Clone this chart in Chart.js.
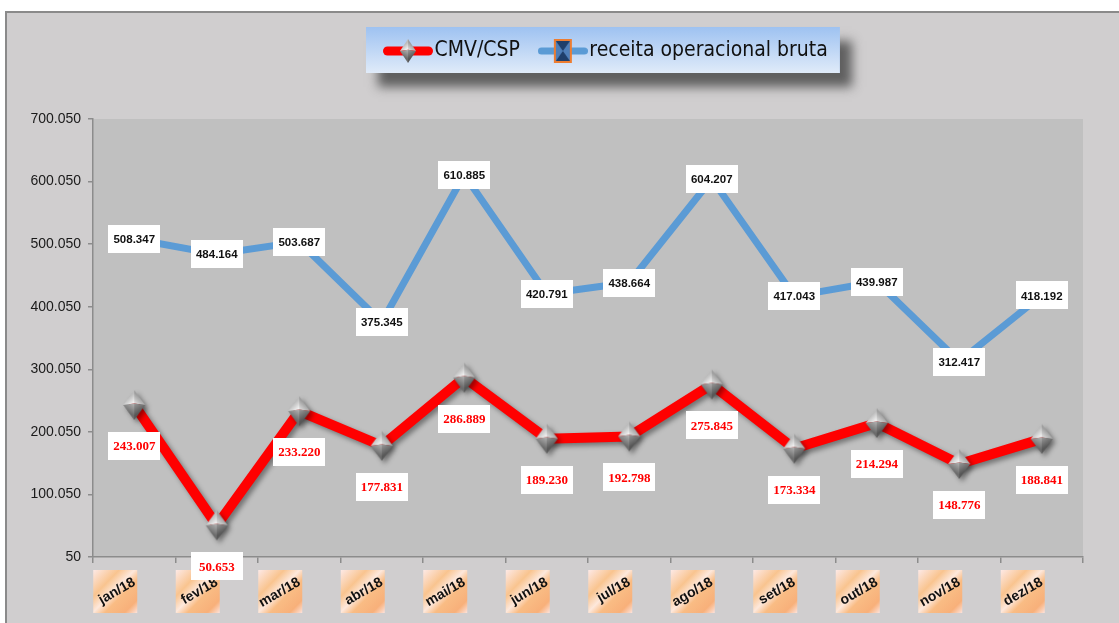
<!DOCTYPE html>
<html>
<head>
<meta charset="utf-8">
<script src="https://cdn.jsdelivr.net/npm/chart.js@4.4.1/dist/chart.umd.min.js"></script>
<style>
html,body{margin:0;padding:0;background:#ffffff;}
#wrap{width:1119px;height:623px;position:relative;overflow:hidden;}
canvas{display:block;}
</style>
</head>
<body>
<div id="wrap"><canvas id="c" width="1119" height="623"></canvas></div>
<script>
// ---- data ----
const categories = ['jan/18','fev/18','mar/18','abr/18','mai/18','jun/18','jul/18','ago/18','set/18','out/18','nov/18','dez/18'];
const seriesNames = ['CMV/CSP', 'receita operacional bruta'];
const cmvCsp = [243007, 50653, 233220, 177831, 286889, 189230, 192798, 275845, 173334, 214294, 148776, 188841];
const receitaBruta = [508347, 484164, 503687, 375345, 610885, 420791, 438664, 604207, 417043, 439987, 312417, 418192];
const yTickValues = [50, 100050, 200050, 300050, 400050, 500050, 600050, 700050];
const yTickLabels = ['50', '100.050', '200.050', '300.050', '400.050', '500.050', '600.050', '700.050'];

// ---- fonts ----
const mctx = document.createElement('canvas').getContext('2d');
function fontAvailable(name) {
  const s = 'mmmmmmmmmmlli10.WQ';
  for (const base of ['monospace', 'serif']) {
    mctx.font = '40px ' + base; const w0 = mctx.measureText(s).width;
    mctx.font = "40px '" + name + "', " + base; const w1 = mctx.measureText(s).width;
    if (Math.abs(w0 - w1) > 0.01) return true;
  }
  return false;
}
const hasNarrow = fontAvailable('Liberation Sans Narrow');
const SANS = hasNarrow ? "'Liberation Sans Narrow', sans-serif" : "'Liberation Sans', Arial, sans-serif";
const LEGEND_FAMILY = hasNarrow ? "'Liberation Sans Narrow', sans-serif" : "'DejaVu Sans Condensed', 'DejaVu Sans', sans-serif";
function fitSize(text, weight, family, base, target) {
  mctx.font = weight + ' ' + base + 'px ' + family;
  const w = mctx.measureText(text).width;
  return Math.round(base * target / w * 2) / 2;
}
const yTickSize = hasNarrow ? 16 : 14;
const legendSize = fitSize('receita operacional bruta', 'normal', LEGEND_FAMILY, 24, 236);
const xTickSize = hasNarrow ? 16 : 14;
const blueLabelSize = hasNarrow ? 13 : 11.5;

const fmt = n => String(n).replace(/\B(?=(\d{3})+(?!\d))/g, '.');

function makeDiamond(w, h, pad) {
  const c = document.createElement('canvas');
  c.width = w + pad * 2; c.height = h + pad * 2;
  const g = c.getContext('2d');
  const cx = c.width / 2, cy = c.height / 2;
  const T = [cx, pad], R = [cx + w / 2, cy], B = [cx, pad + h], L = [cx - w / 2, cy], C = [cx, cy - h * 0.05];
  const face = (a, b, c1, c2) => {
    const mx = (a[0] + b[0]) / 2, my = (a[1] + b[1]) / 2;
    const gr = g.createLinearGradient(C[0], C[1], mx, my);
    gr.addColorStop(0, c1); gr.addColorStop(1, c2);
    g.beginPath(); g.moveTo(C[0], C[1]); g.lineTo(a[0], a[1]); g.lineTo(b[0], b[1]); g.closePath();
    g.fillStyle = gr; g.fill();
  };
  face(T, L, '#fbfbfb', '#bcbcbc');
  face(T, R, '#e2e2e2', '#9e9e9e');
  face(L, B, '#b4b4b4', '#6c6c6c');
  face(R, B, '#9a9a9a', '#575757');
  return c;
}

function makeRectMarker(w, h) {
  const c = document.createElement('canvas');
  c.width = w; c.height = h;
  const g = c.getContext('2d');
  g.fillStyle = '#ed7d31'; g.fillRect(0, 0, w, h);
  g.fillStyle = '#4f7fb8'; g.fillRect(2, 2, w - 4, h - 4);
  g.fillStyle = '#1f3f6a';
  g.beginPath(); g.moveTo(2, 2); g.lineTo(w - 2, 2); g.lineTo(w / 2, h / 2); g.closePath(); g.fill();
  g.beginPath(); g.moveTo(2, h - 2); g.lineTo(w - 2, h - 2); g.lineTo(w / 2, h / 2); g.closePath(); g.fill();
  return c;
}

const diamondImg = makeDiamond(22, 30, 1);
const rectImg = makeRectMarker(21, 26);

function makeLegendIcon(color, thick, marker, mw, mh) {
  const c = document.createElement('canvas');
  c.width = 50; c.height = 28;
  const g = c.getContext('2d');
  g.strokeStyle = color; g.lineWidth = thick; g.lineCap = 'round';
  g.beginPath(); g.moveTo(thick / 2, 14); g.lineTo(50 - thick / 2, 14); g.stroke();
  g.drawImage(marker, 25 - mw / 2, 14 - mh / 2, mw, mh);
  return c;
}
const legendIcons = [
  makeLegendIcon('#ff0000', 9, makeDiamond(16, 24, 0), 16, 24),
  makeLegendIcon('#5b9bd5', 7, makeRectMarker(18, 24), 18, 24)
];

// ---- plugins ----
const bgPlugin = {
  id: 'bg',
  beforeDraw(chart) {
    const ctx = chart.ctx, a = chart.chartArea;
    ctx.save();
    ctx.fillStyle = '#ffffff'; ctx.fillRect(0, 0, chart.width, chart.height);
    ctx.fillStyle = '#d0cecf'; ctx.fillRect(6, 11, chart.width - 6, chart.height - 11);
    ctx.strokeStyle = '#8a8a8a'; ctx.lineWidth = 2;
    ctx.beginPath(); ctx.moveTo(6, chart.height); ctx.lineTo(6, 12); ctx.lineTo(chart.width, 12); ctx.stroke();
    ctx.fillStyle = '#c0c0c0'; ctx.fillRect(a.left, a.top, a.right - a.left, a.bottom - a.top);
    const lg = chart.legend;
    if (lg && lg.legendHitBoxes && lg.legendHitBoxes.length) {
      const hb = lg.legendHitBoxes;
      const last = hb[hb.length - 1];
      const left = hb[0].left - 26, right = last.left + last.width + 12;
      const top = 27, h = 46;
      ctx.save();
      ctx.shadowColor = 'rgba(90,90,90,0.95)'; ctx.shadowBlur = 10; ctx.shadowOffsetX = 12; ctx.shadowOffsetY = 14;
      ctx.fillStyle = '#a8c8f2'; ctx.fillRect(left, top, right - left, h);
      ctx.restore();
      const gr = ctx.createLinearGradient(0, top, 0, top + h);
      gr.addColorStop(0, '#9ec2f1'); gr.addColorStop(1, '#e0ebf9');
      ctx.fillStyle = gr; ctx.fillRect(left, top, right - left, h);
    }
    const xs = chart.scales.x;
    for (let i = 0; i < xs.ticks.length; i++) {
      const px = xs.getPixelForTick(i);
      const bx = px - 19 - 22, by = a.bottom + 13, bw = 44, bh = 43;
      const gr = ctx.createLinearGradient(bx, by, bx + bw, by + bh);
      gr.addColorStop(0, '#fde9e6');
      gr.addColorStop(0.3, '#f9c48f');
      gr.addColorStop(0.48, '#fde8dc');
      gr.addColorStop(0.62, '#f9bc84');
      gr.addColorStop(0.85, '#f8b07a');
      gr.addColorStop(1, '#fde3dc');
      ctx.fillStyle = gr; ctx.fillRect(bx, by, bw, bh);
    }
    ctx.restore();
  }
};

const legendPosPlugin = {
  id: 'legendPos',
  afterLayout(chart) {
    const lg = chart.legend;
    if (!lg) return;
    const w = lg.right - lg.left, h = lg.bottom - lg.top;
    lg.left = 365; lg.right = 365 + w;
    const top = 51 - 27 - legendSize / 2;
    lg.top = top; lg.bottom = top + h;
  }
};

const shadowPlugin = {
  id: 'lineShadow',
  beforeDatasetDraw(chart, args) {
    if (args.index === 0) {
      const c = chart.ctx; c.save();
      c.shadowColor = 'rgba(0,0,0,0.4)'; c.shadowBlur = 5; c.shadowOffsetX = 3; c.shadowOffsetY = 3;
    }
  },
  afterDatasetDraw(chart, args) {
    if (args.index === 0) chart.ctx.restore();
  }
};

const LABEL_CFG = [
  { dy: 41, color: '#ff0000', font: "bold 13px 'Liberation Serif','Times New Roman',serif" },
  { dy: 0, color: '#111111', font: 'bold ' + blueLabelSize + 'px ' + SANS }
];
const labelPlugin = {
  id: 'dataLabels',
  afterDatasetsDraw(chart) {
    const ctx = chart.ctx;
    ctx.save();
    for (const di of [1, 0]) {
      const meta = chart.getDatasetMeta(di);
      const cfg = LABEL_CFG[di];
      const data = chart.data.datasets[di].data;
      meta.data.forEach((el, i) => {
        const x = el.x, y = el.y + cfg.dy;
        ctx.fillStyle = '#ffffff';
        ctx.fillRect(Math.round(x - 26), Math.round(y - 14), 52, 28);
        ctx.fillStyle = cfg.color; ctx.font = cfg.font;
        ctx.textAlign = 'center'; ctx.textBaseline = 'middle';
        ctx.fillText(fmt(data[i]), x, y + 1);
      });
    }
    ctx.restore();
  }
};

const legendHeight = legendSize + 27 + 10;

new Chart(document.getElementById('c'), {
  type: 'line',
  data: {
    labels: categories,
    datasets: [
      { label: seriesNames[0], data: cmvCsp, borderColor: '#ff0000', backgroundColor: '#ff0000', borderWidth: 10,
        pointStyle: diamondImg, pointRadius: 12, tension: 0, fill: false, borderJoinStyle: 'round', borderCapStyle: 'round' },
      { label: seriesNames[1], data: receitaBruta, borderColor: '#5b9bd5', backgroundColor: '#5b9bd5', borderWidth: 7,
        pointStyle: rectImg, pointRadius: 12, tension: 0, fill: false, borderJoinStyle: 'round', borderCapStyle: 'round' }
    ]
  },
  options: {
    responsive: false, animation: false, devicePixelRatio: 1,
    layout: { padding: { left: 0, right: 36, top: 119 - legendHeight, bottom: 0 } },
    plugins: {
      tooltip: { enabled: false },
      legend: {
        display: true, position: 'top', align: 'start', fullSize: false,
        labels: {
          usePointStyle: true, pointStyleWidth: 32, padding: 27, color: '#111111',
          font: { family: LEGEND_FAMILY, size: legendSize },
          generateLabels: (chart) => chart.data.datasets.map((ds, i) => ({
            text: ds.label, pointStyle: legendIcons[i], datasetIndex: i, hidden: false,
            fontColor: '#111111', lineWidth: 0, strokeStyle: 'rgba(0,0,0,0)', fillStyle: 'rgba(0,0,0,0)'
          }))
        }
      }
    },
    scales: {
      x: {
        offset: true,
        grid: { offset: true, drawOnChartArea: false, tickLength: 6, color: '#8c8c8c', lineWidth: 1.5 },
        border: { display: true, color: '#8c8c8c', width: 1.5 },
        ticks: { minRotation: 30, maxRotation: 30, autoSkip: false, padding: 11, color: '#111111',
          font: { family: SANS, size: xTickSize, weight: 'bold' } },
        afterFit: s => { s.height = 66; }
      },
      y: {
        min: 50, max: 700050,
        afterBuildTicks: s => { s.ticks = yTickValues.map(v => ({ value: v })); },
        ticks: { callback: (v, i) => yTickLabels[i], color: '#1a1a1a', padding: 7, font: { family: SANS, size: yTickSize } },
        grid: { drawOnChartArea: false, tickLength: 5, color: '#8c8c8c', lineWidth: 1.5 },
        border: { display: true, color: '#8c8c8c', width: 1.5 },
        afterFit: s => { s.width = 93; }
      }
    }
  },
  plugins: [bgPlugin, legendPosPlugin, shadowPlugin, labelPlugin]
});
</script>
</body>
</html>
